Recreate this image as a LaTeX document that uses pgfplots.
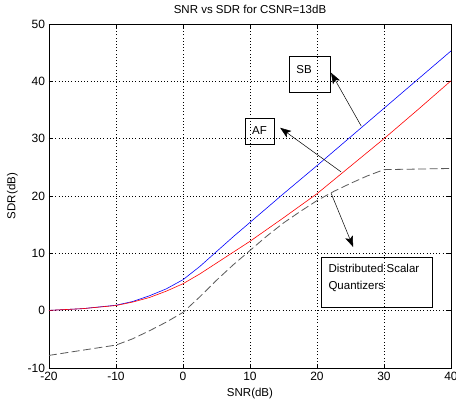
\documentclass[border=0pt]{standalone}
\usepackage{pgfplots}
\pgfplotsset{compat=1.18}
\usepackage{fontspec}
\setmainfont{Liberation Sans}
\usetikzlibrary{arrows.meta}

\begin{document}
\fontsize{11.5bp}{13bp}\selectfont
\begin{tikzpicture}
  % fixed page size, 456 x 412 (the "40" label is cut at the right edge, as in the original)
  \useasboundingbox (-49bp,-44bp) rectangle (407bp,368bp);
  \begin{axis}[
      at={(0,0)}, anchor=south west,
      scale only axis,
      width=402bp, height=344bp,
      xmin=-20, xmax=40, ymin=-10, ymax=50,
      xtick={-20,-10,...,40}, ytick={-10,0,...,50},
      grid=major,
      major grid style={black, line width=0.4bp, dash pattern=on 0.8bp off 2.4bp},
      axis line style={black, line width=0.6bp},
      tick style={black, line width=0.6bp},
      major tick length=4bp,
      tick align=inside,
      /pgf/number format/assume math mode=true,
      ticklabel style={font=\fontsize{12bp}{14bp}\selectfont},
      title={SNR vs SDR for CSNR=13dB},
      title style={at={(0.5,1)}, anchor=base, yshift=5bp},
      xlabel={SNR(dB)}, ylabel={SDR(dB)},
      ylabel shift=2bp,
      clip=false,
    ]

    % SB
    \addplot[blue, line width=0.6bp] coordinates {
      (-20,0.05) (-15,0.35) (-10,0.95) (-7.5,1.6) (-5,2.6) (-2.5,3.8) (0,5.4)
      (2.5,7.7) (5,10.3) (7.5,12.9) (10,15.4) (15,20.4) (20,25.3) (25,30.3)
      (30,35.3) (35,40.3) (40,45.3)
    };

    % AF
    \addplot[red, line width=0.6bp] coordinates {
      (-20,0.05) (-15,0.35) (-10,0.9) (-7.5,1.5) (-5,2.3) (-2.5,3.4) (0,4.7)
      (2.5,6.4) (5,8.3) (7.5,10.2) (10,12.1) (15,16.2) (20,20.4) (25,25.2)
      (30,30.0) (35,35.0) (40,40.1)
    };

    % Distributed Scalar Quantizers
    \addplot[black!65, line width=0.8bp, dash pattern=on 8bp off 3.5bp] coordinates {
      (-20,-7.8) (-15,-6.9) (-10,-6.0) (-7.5,-4.9) (-5,-3.5) (-2.5,-2.0)
      (0,-0.3) (2.5,2.4) (5,5.3) (7.5,8.0) (10,10.5) (12.5,13.0) (15,15.3)
      (17.5,17.3) (20,19.2) (22.5,20.8) (25,22.2) (27.5,23.5) (30,24.6)
      (35,24.7) (40,24.8)
    };

    % annotations
    \draw[black, line width=0.8bp] (axis cs:15.82,38.15) rectangle (axis cs:21.94,44.43);
    \node at (axis cs:18.06,42.07) {SB};
    \draw[black, line width=0.5bp, -{Stealth[length=11bp,width=8bp,inset=2.5bp]}]
      (axis cs:26.6,32.2) -- (axis cs:22.1,41.5);

    \draw[black, line width=0.8bp] (axis cs:9.25,29.08) rectangle (axis cs:13.58,33.61);
    \node at (axis cs:11.42,31.5) {AF};
    \draw[black, line width=0.5bp, -{Stealth[length=11bp,width=8bp,inset=2.5bp]}]
      (axis cs:23.6,24.2) -- (axis cs:14.5,31.9);

    \draw[black, line width=0.8bp] (axis cs:20.60,0.62) rectangle (axis cs:37.16,9.35);
    \node[anchor=base west, inner sep=0pt] at (axis cs:21.69,6.65) {Distributed Scalar};
    \node[anchor=base west, inner sep=0pt] at (axis cs:21.69,3.73) {Quantizers};
    \draw[black, line width=0.5bp, -{Stealth[length=11bp,width=8bp,inset=2.5bp]}]
      (axis cs:22.1,20.5) -- (axis cs:25.4,11.1);
  \end{axis}
\end{tikzpicture}
\end{document}
